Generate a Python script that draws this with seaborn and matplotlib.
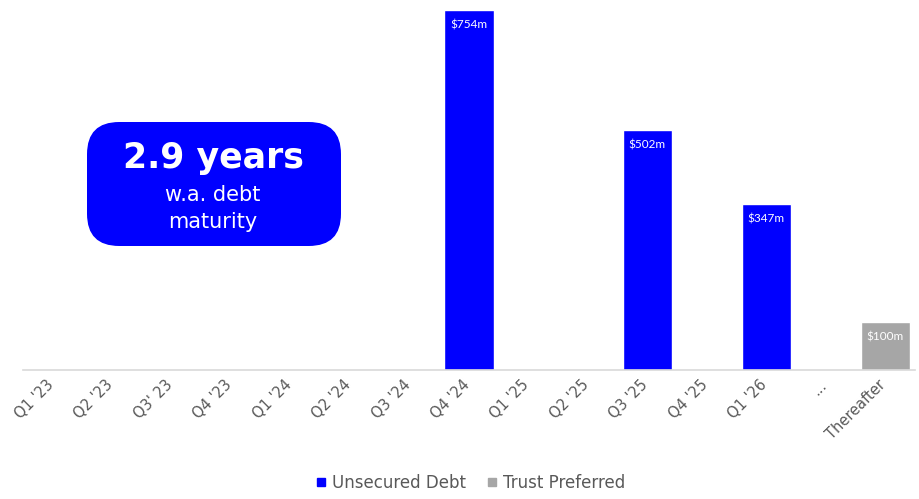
import matplotlib
matplotlib.use("Agg")
import matplotlib.pyplot as plt
import matplotlib.transforms as mtransforms
import seaborn as sns
import pandas as pd
from matplotlib.patches import FancyBboxPatch
from matplotlib.lines import Line2D

categories = ["Q1 '23", "Q2 '23", "Q3' 23", "Q4 '23", "Q1 '24", "Q2 '24", "Q3 '24",
              "Q4 '24", "Q1 '25", "Q2 '25", "Q3 '25", "Q4 '25", "Q1 '26", "...", "Thereafter"]
unsecured = [0, 0, 0, 0, 0, 0, 0, 754, 0, 0, 502, 0, 347, 0, 0]
trust_preferred = [0, 0, 0, 0, 0, 0, 0, 0, 0, 0, 0, 0, 0, 0, 100]
series_names = ["Unsecured Debt", "Trust Preferred"]
colors = ["#0000FF", "#A6A6A6"]

rows = []
for c, u, t in zip(categories, unsecured, trust_preferred):
    if u:
        rows.append((c, series_names[0], u))
    if t:
        rows.append((c, series_names[1], t))
df = pd.DataFrame(rows, columns=["period", "series", "value"])

sns.set_theme(style="white")
plt.rcParams['font.family'] = ['DejaVu Sans']

fig = plt.figure(figsize=(9.2, 4.99), dpi=100)
ax = fig.add_axes([23/920, 129/499, 892/920, 360/499])

sns.barplot(data=df, x="period", y="value", hue="series", order=categories,
            hue_order=series_names, palette=colors, dodge=False, width=0.825,
            saturation=1, ax=ax, legend=False)

ax.set_xlim(-0.5, len(categories) - 0.5)
ax.set_ylim(0, 754)
for s in ["top", "right", "left"]:
    ax.spines[s].set_visible(False)
ax.spines["bottom"].set_color("#D9D9D9")
ax.spines["bottom"].set_linewidth(1.2)
ax.set_yticks([])
ax.set_xlabel("")
ax.set_ylabel("")
ax.tick_params(axis="x", length=0, pad=5)
ax.set_xticks(range(len(categories)))
ax.set_xticklabels(categories, rotation=45, ha="right", rotation_mode="anchor",
                   color="#595959", fontsize=10.5)
offset = mtransforms.ScaledTranslation(-5/72, 0, fig.dpi_scale_trans)
for lbl in ax.get_xticklabels():
    lbl.set_transform(lbl.get_transform() + offset)

for p in ax.patches:
    h = p.get_height()
    if h and h > 0:
        ax.text(p.get_x() + p.get_width() / 2, h - 19, f"${int(round(h))}m",
                ha="center", va="top", color="white", fontsize=8.5, family="Lato")

# callout box
box = FancyBboxPatch((87/920, (499-246)/499), (341-87)/920, (246-122)/499,
                     boxstyle="round,pad=0,rounding_size=0.035",
                     transform=fig.transFigure, facecolor="#0000FF", edgecolor="none",
                     mutation_aspect=920/499)
fig.patches.append(box)
fig.text(213/920, 1 - 158/499, "2.9 years", ha="center", va="center",
         color="white", fontsize=25, fontweight="bold")
fig.text(213/920, 1 - 195/499, "w.a. debt", ha="center", va="center",
         color="white", fontsize=15)
fig.text(213/920, 1 - 222/499, "maturity", ha="center", va="center",
         color="white", fontsize=15)

handles = [Line2D([], [], marker="s", linestyle="none", markersize=6,
                  markerfacecolor=c, markeredgecolor=c) for c in colors]
fig.legend(handles, series_names, loc="center", bbox_to_anchor=(470/920, 1 - 483/499),
           ncol=2, frameon=False, fontsize=12, labelcolor="#595959",
           handletextpad=0.3, columnspacing=1.2, handlelength=0.7)

fig.savefig("out.png", dpi=100)
